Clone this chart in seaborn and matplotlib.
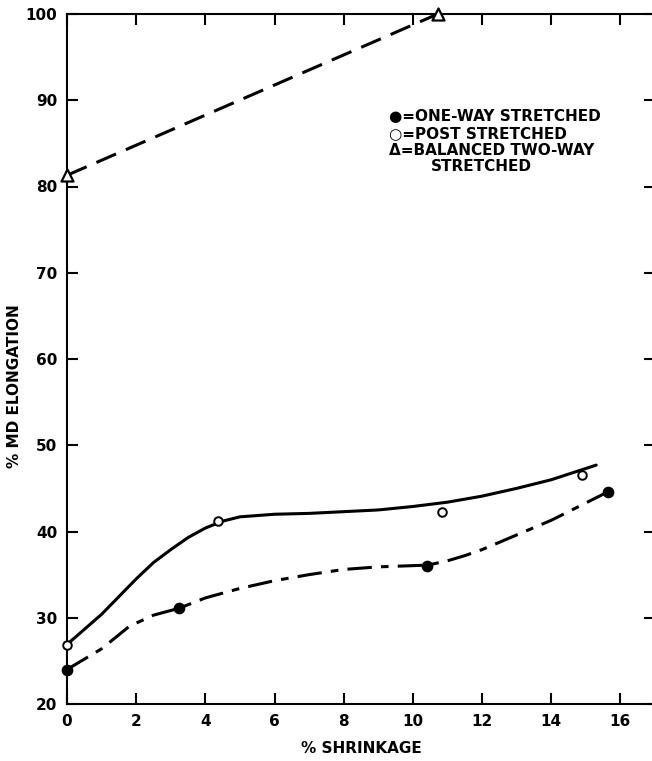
#!/usr/bin/env python3

import pandas
import seaborn as sns
import matplotlib

matplotlib.use("Agg")
import matplotlib.pyplot as plt

# Measured points (% shrinkage, % MD elongation)
one_way_x = [0.0, 3.24, 10.42, 15.64]
one_way_y = [24.0, 31.1, 36.0, 44.6]
post_x = [0.0, 4.36, 10.83, 14.88]
post_y = [26.8, 41.2, 42.3, 46.5]
balanced_x = [0.0, 10.72]
balanced_y = [81.3, 100.0]

# Hand-drawn fit curves
post_curve_x = [0, 1, 2, 2.5, 3, 3.5, 4, 4.5, 5, 6, 7, 8, 9, 10, 11, 12, 13, 14, 15.3]
post_curve_y = [26.9, 30.4, 34.5, 36.4, 37.9, 39.3, 40.4, 41.2, 41.7, 42.0, 42.1,
                42.3, 42.5, 42.9, 43.4, 44.1, 45.0, 46.0, 47.7]
one_way_curve_x = [0, 1, 1.8, 2.5, 3.24, 4, 5, 6, 7, 8, 9, 10.42, 11, 11.5, 12, 13,
                   14, 14.5, 15.64]
one_way_curve_y = [24.0, 26.4, 29.0, 30.3, 31.1, 32.3, 33.4, 34.3, 35.0, 35.6, 35.9,
                   36.1, 36.6, 37.2, 37.9, 39.6, 41.3, 42.3, 44.6]

x_ticks = [0, 2, 4, 6, 8, 10, 12, 14, 16]
y_ticks = [20, 30, 40, 50, 60, 70, 80, 90, 100]

legend_lines = [
    "\u25cf=ONE-WAY STRETCHED",
    "\u25cb=POST STRETCHED",
    "\u0394=BALANCED TWO-WAY",
]

sns.set_style("ticks")
plt.rcParams["font.family"] = ["DejaVu Sans"]
plt.rcParams["font.weight"] = "bold"
plt.rcParams["text.color"] = "black"
plt.rcParams["axes.labelcolor"] = "black"
plt.rcParams["xtick.color"] = "black"
plt.rcParams["ytick.color"] = "black"

fig = plt.figure(figsize=(6.52, 7.61), dpi=100)
ax = fig.add_axes([67 / 652, 57 / 761, 588 / 652, 690 / 761])

post_curve = pandas.DataFrame({"x": post_curve_x, "y": post_curve_y})
one_way_curve = pandas.DataFrame({"x": one_way_curve_x, "y": one_way_curve_y})
balanced = pandas.DataFrame({"x": balanced_x, "y": balanced_y})

sns.lineplot(data=post_curve, x="x", y="y", ax=ax, color="black", lw=2.2,
             sort=False, estimator=None)
sns.lineplot(data=one_way_curve, x="x", y="y", ax=ax, color="black", lw=2.2,
             sort=False, estimator=None)
ax.lines[-1].set_dashes((8, 3, 2.5, 3))
sns.lineplot(data=balanced, x="x", y="y", ax=ax, color="black", lw=2.2,
             sort=False, estimator=None)
ax.lines[-1].set_dashes((7, 3.5))

sns.scatterplot(x=one_way_x, y=one_way_y, ax=ax, color="black", s=55,
                edgecolor="black", linewidth=1, zorder=5, clip_on=False)
sns.scatterplot(x=post_x, y=post_y, ax=ax, facecolor="white", s=38,
                edgecolor="black", linewidth=1.4, zorder=5, clip_on=False)
sns.scatterplot(x=balanced_x, y=balanced_y, ax=ax, marker="^", facecolor="white",
                s=75, edgecolor="black", linewidth=1.6, zorder=5, clip_on=False)

ax.set_xlim(0, 17)
ax.set_ylim(20, 100)
ax.set_xticks(x_ticks)
ax.set_yticks(y_ticks)
ax.set_xticklabels([str(t) for t in x_ticks], fontsize=11, fontweight="bold")
ax.set_yticklabels([str(t) for t in y_ticks], fontsize=11, fontweight="bold")
ax.tick_params(direction="in", length=8, width=1.5, top=True, right=True,
               pad=7, color="black", labelcolor="black")
for spine in ax.spines.values():
    spine.set_linewidth(1.5)
    spine.set_color("black")

ax.set_xlabel("% SHRINKAGE", fontsize=11, fontweight="bold", labelpad=9)
ax.set_ylabel("% MD ELONGATION", fontsize=11, fontweight="bold")
ax.yaxis.set_label_coords(-0.077, 0.46)

# hand-lettered key
for i, txt in enumerate(legend_lines):
    ax.text(9.3, 88.1 - 1.95 * i, txt, fontsize=11, fontweight="bold",
            va="center", ha="left")
ax.text(11.98, 82.3, "STRETCHED", fontsize=11, fontweight="bold",
        va="center", ha="center")

fig.savefig("out.png", dpi=100)
